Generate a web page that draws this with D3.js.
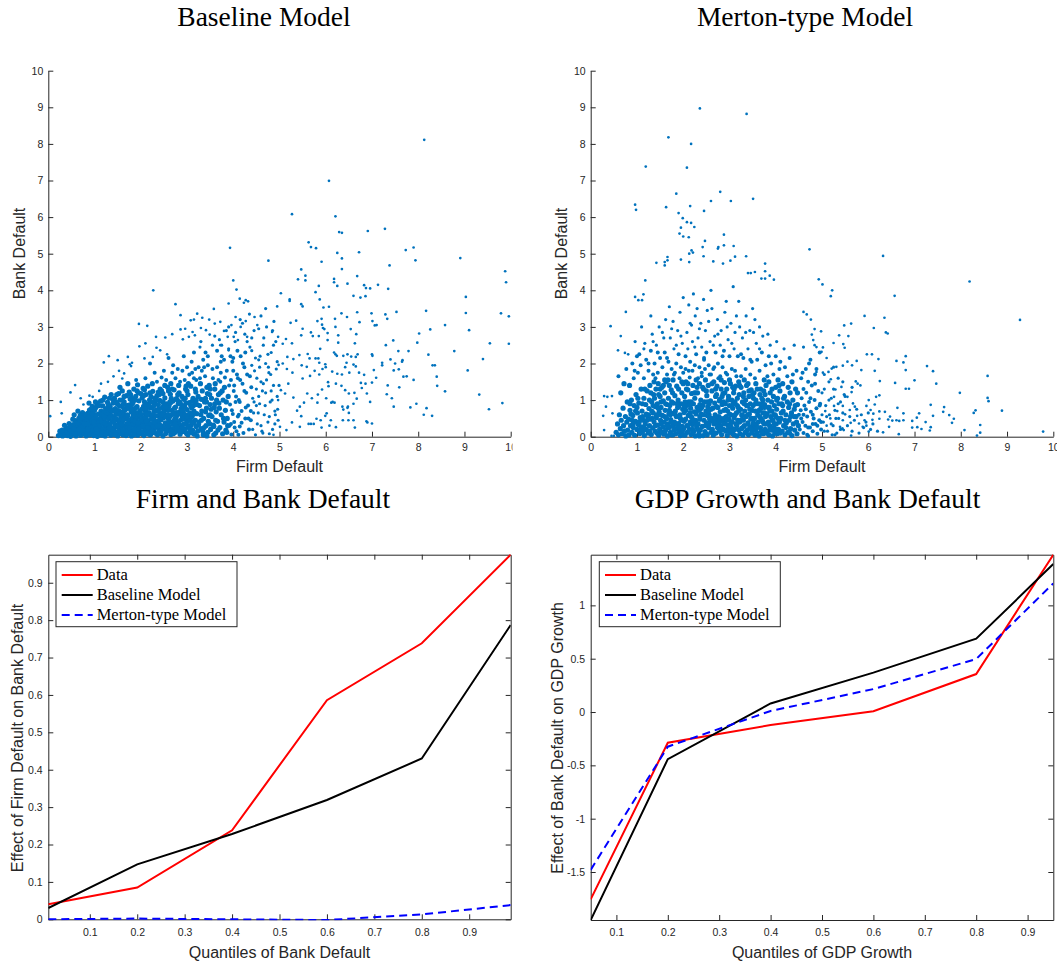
<!DOCTYPE html>
<html><head><meta charset="utf-8">
<script src="https://cdn.jsdelivr.net/npm/d3@7"></script>
<style>body{margin:0;background:#fff}svg{display:block}</style>
</head><body>
<svg id="chart" width="1057" height="961"></svg>
<script>
// ---------- DATA ----------
const scatterTitles = ["Baseline Model", "Merton-type Model"];
const lineTitles = ["Firm and Bank Default", "GDP Growth and Bank Default"];
const scatterTicks = [0,1,2,3,4,5,6,7,8,9,10];

// Baseline model scatter (Firm Default, Bank Default): "x y" pairs — dense cloud
const baselineCore = `0.22 0.03,0.27 0.08,0.31 0.02,0.33 0.12,0.36 0.06,0.38 0.18,0.41 0.03,0.42 0.11,0.44 0.22,0.46 0.07,0.47 0.15,0.49 0.29,0.48 0.01,0.39 0.25,0.35 0.31,0.45 0.36,0.3 0.18,0.25 0.15,
0.51 0.05,0.52 0.19,0.54 0.33,0.55 0.1,0.57 0.27,0.58 0.44,0.6 0.02,0.61 0.15,0.62 0.38,0.63 0.23,0.65 0.08,0.66 0.5,0.67 0.31,0.68 0.17,0.7 0.04,0.71 0.42,0.72 0.26,0.73 0.12,0.75 0.35,0.76 0.55,0.77 0.21,0.78 0.07,0.79 0.46,0.56 0.6,0.64 0.7,0.74 0.66,0.69 0.58,0.53 0.48,
0.8 0.14,0.81 0.3,0.82 0.02,0.83 0.52,0.84 0.22,0.85 0.64,0.86 0.09,0.87 0.41,0.88 0.27,0.89 0.73,0.9 0.05,0.91 0.35,0.92 0.17,0.93 0.58,0.94 0.45,0.95 0.11,0.96 0.29,0.97 0.68,0.98 0.03,0.99 0.39,1.0 0.21,1.01 0.55,1.02 0.13,1.03 0.8,1.04 0.33,1.05 0.06,1.06 0.47,1.07 0.25,1.08 0.62,1.09 0.16,1.1 0.4,0.84 0.44,0.9 0.62,0.95 0.83,1.0 0.72,1.05 0.9,0.88 0.92,0.99 0.5,0.93 0.24,1.06 0.01,
1.11 0.08,1.12 0.28,1.13 0.51,1.14 0.7,1.15 0.19,1.16 0.04,1.17 0.36,1.18 0.84,1.19 0.6,1.2 0.13,1.21 0.45,1.22 0.27,1.23 0.02,1.24 0.76,1.25 0.55,1.26 0.18,1.27 0.38,1.28 0.94,1.29 0.09,1.3 0.66,1.31 0.31,1.32 0.48,1.33 0.15,1.34 0.81,1.35 0.04,1.36 0.58,1.37 0.24,1.38 0.71,1.39 0.41,1.4 1.02,1.13 0.97,1.22 1.08,1.3 0.88,1.36 1.15,1.15 0.42,1.26 0.65,1.33 0.35,1.19 0.22,1.28 0.12,1.38 0.08,
1.41 0.19,1.42 0.52,1.43 0.06,1.44 0.33,1.45 0.77,1.46 0.13,1.47 0.62,1.48 0.27,1.49 0.9,1.5 0.02,1.51 0.44,1.52 0.71,1.53 0.16,1.54 0.37,1.55 1.0,1.56 0.09,1.57 0.56,1.58 0.24,1.59 0.83,1.6 0.4,1.61 0.05,1.62 0.67,1.63 0.3,1.64 0.95,1.65 0.14,1.66 0.49,1.67 0.74,1.68 0.21,1.69 1.12,1.7 0.35,1.43 1.05,1.52 1.18,1.6 1.25,1.48 0.48,1.57 0.11,1.65 0.6,1.45 0.29,1.62 0.88,1.55 0.68,1.68 0.03,
1.71 0.07,1.72 0.58,1.73 0.26,1.74 0.86,1.75 0.12,1.76 0.43,1.77 1.03,1.78 0.31,1.79 0.68,1.8 0.02,1.81 0.5,1.82 0.19,1.83 0.93,1.84 0.37,1.85 0.76,1.86 0.1,1.87 0.61,1.88 0.28,1.89 1.1,1.9 0.45,1.91 0.15,1.92 0.82,1.93 0.04,1.94 0.53,1.95 0.33,1.96 0.98,1.97 0.22,1.98 0.7,1.99 0.4,2.0 0.08,1.75 1.22,1.85 1.3,1.95 1.2,1.8 0.88,1.9 0.66,1.73 0.47,1.88 0.55,1.97 0.12,1.82 0.33,1.93 1.42,
2.01 0.6,2.02 0.27,2.03 1.06,2.04 0.14,2.05 0.49,2.06 0.83,2.07 0.03,2.08 0.38,2.09 0.72,2.1 0.2,2.11 1.15,2.12 0.55,2.13 0.09,2.14 0.31,2.15 0.9,2.16 0.44,2.17 0.16,2.18 0.66,2.19 1.01,2.2 0.24,2.21 0.05,2.22 0.58,2.23 0.35,2.24 0.79,2.25 0.12,2.26 1.24,2.27 0.47,2.28 0.19,2.29 0.69,2.3 0.94,2.05 1.32,2.15 1.38,2.25 1.45,2.08 0.95,2.18 0.07,2.12 0.76,2.22 1.1,2.28 0.52,2.03 0.41,2.1 0.63,
2.31 0.1,2.32 0.41,2.33 0.73,2.34 0.26,2.35 1.12,2.36 0.05,2.37 0.57,2.38 0.88,2.39 0.18,2.4 0.34,2.41 0.99,2.42 0.63,2.43 0.13,2.44 0.46,2.45 1.25,2.46 0.29,2.47 0.8,2.48 0.02,2.49 0.52,2.5 0.7,2.51 0.21,2.52 1.06,2.53 0.38,2.54 0.09,2.55 0.6,2.56 0.9,2.57 0.31,2.58 1.35,2.59 0.16,2.6 0.48,2.35 1.5,2.45 1.62,2.55 1.55,2.38 0.43,2.48 0.95,2.52 0.25,2.42 1.3,2.33 1.0,2.58 0.75,2.4 0.08,
2.61 0.84,2.62 0.25,2.63 0.55,2.64 1.16,2.65 0.06,2.66 0.4,2.67 0.72,2.68 0.18,2.69 0.97,2.7 0.34,2.71 0.62,2.72 1.28,2.73 0.11,2.74 0.49,2.75 0.81,2.76 0.27,2.77 1.04,2.78 0.58,2.79 0.15,2.8 0.39,2.81 0.9,2.82 0.21,2.83 1.2,2.84 0.67,2.85 0.07,2.86 0.45,2.87 0.77,2.88 0.3,2.89 1.1,2.9 0.53,2.65 1.45,2.75 1.6,2.85 1.5,2.68 1.75,2.8 1.85,2.7 0.08,2.78 0.66,2.63 0.95,2.88 0.88,2.72 0.44,
2.91 0.14,2.92 0.66,2.93 1.02,2.94 0.35,2.95 0.82,2.96 0.2,2.97 1.3,2.98 0.5,2.99 0.09,3.0 0.74,3.01 0.42,3.02 1.15,3.03 0.26,3.04 0.6,3.05 0.93,3.06 0.12,3.07 0.48,3.08 1.38,3.09 0.31,3.1 0.79,3.11 0.55,3.12 0.18,3.13 1.05,3.14 0.38,3.15 0.7,3.16 0.07,3.17 0.9,3.18 0.45,3.19 1.22,3.2 0.28,2.95 1.55,3.05 1.7,3.15 1.6,3.0 1.9,3.1 2.05,2.93 2.2,3.18 1.85,3.02 0.05,3.12 0.98,2.97 0.6,
3.21 0.63,3.23 0.15,3.24 1.1,3.26 0.4,3.27 0.85,3.29 1.45,3.3 0.22,3.32 0.7,3.33 1.25,3.35 0.05,3.36 0.5,3.38 0.95,3.39 1.65,3.41 0.3,3.42 0.78,3.44 1.18,3.45 0.12,3.47 0.58,3.48 1.4,3.5 0.88,3.25 1.9,3.35 2.1,3.45 1.95,3.28 2.45,3.4 2.3,3.22 0.02,3.31 0.45,3.43 0.02,3.37 0.25,3.49 0.35,
3.51 0.2,3.53 1.05,3.54 0.55,3.56 1.6,3.57 0.32,3.59 0.8,3.6 1.3,3.62 0.1,3.63 0.68,3.65 1.9,3.66 0.42,3.68 1.15,3.69 0.92,3.71 0.25,3.72 1.5,3.74 0.6,3.75 2.2,3.77 0.08,3.78 1.0,3.8 0.4,3.55 2.5,3.65 2.35,3.7 2.65,3.58 0.05,3.73 1.75,
3.81 1.35,3.83 0.72,3.84 0.18,3.86 1.8,3.87 0.5,3.89 1.1,3.9 2.4,3.92 0.3,3.93 0.88,3.95 1.55,3.96 0.06,3.98 2.05,3.99 0.62,4.01 1.25,4.02 0.4,4.04 2.6,4.05 0.95,4.07 0.15,4.08 1.7,4.1 0.55,3.85 2.9,4.0 2.15,3.95 0.35,
4.12 1.0,4.14 0.28,4.16 2.2,4.18 0.7,4.2 1.45,4.22 0.1,4.24 1.9,4.26 0.5,4.28 1.2,4.3 2.6,4.32 0.85,4.34 0.2,4.36 1.65,4.38 0.45,4.4 2.35,4.42 1.05,4.44 0.65,4.46 1.8,4.48 0.05,4.5 1.3,4.15 3.2,4.25 2.8,4.35 3.35,4.45 2.9,
4.52 0.35,4.55 2.1,4.57 0.9,4.6 1.5,4.62 0.15,4.65 2.5,4.67 0.6,4.7 1.2,4.72 3.0,4.75 0.4,4.77 1.75,4.8 0.95,4.82 2.3,4.85 0.2,4.87 1.4,4.9 0.7,4.92 2.6,4.95 1.1,4.97 0.45,4.6 3.3,4.7 2.0,4.88 3.15,4.55 1.1,4.78 0.08,
0.85 0.35,0.92 0.5,0.97 0.18,1.03 0.58,1.08 0.3,1.12 0.62,1.17 0.12,1.21 0.68,1.24 0.33,1.29 0.52,1.32 0.24,1.35 0.73,1.42 0.4,1.46 0.61,1.5 0.28,1.53 0.85,1.58 0.46,1.61 0.17,1.64 0.75,1.67 0.53,1.72 0.36,1.76 0.77,1.78 0.15,1.81 0.95,1.84 0.6,1.87 0.42,1.9 0.8,1.94 0.22,1.97 0.58,2.02 0.75,2.05 0.3,2.09 0.52,2.11 0.88,2.14 0.61,2.17 0.35,2.2 0.8,2.23 0.48,2.27 0.29,2.29 0.85,2.32 0.57,2.35 0.3,2.39 0.76,2.42 0.48,2.45 0.2,2.47 0.65,2.5 0.9,2.53 0.55,2.56 0.18,2.59 0.72,2.62 0.4,2.64 0.92,2.67 0.6,2.7 0.22,2.73 0.78,2.76 0.5,2.79 1.0,2.82 0.35,2.85 0.62,2.88 0.15,2.91 0.8,2.94 0.5,2.98 0.92,3.02 0.3,3.06 0.65,3.1 0.4,3.14 0.85,1.0 0.3,1.05 0.12,1.15 0.5,1.25 0.08,1.45 0.05,1.55 0.45,1.7 0.6,1.85 0.2,2.0 0.45,2.15 0.25,2.3 0.4,2.45 0.6,2.6 0.3,2.75 0.35,2.9 0.25,3.0 0.55,0.7 0.3,0.75 0.18,0.6 0.25,0.65 0.38,0.5 0.15,0.55 0.22,1.4 0.92,1.6 1.0,1.8 1.05,2.0 1.18,2.2 1.2,2.4 1.15,2.6 1.25,2.8 1.15,3.0 1.25,3.2 1.0,3.3 0.6,3.4 1.05,3.5 0.6,3.6 0.9,
3.03 1.45,3.07 0.2,3.11 1.75,3.14 0.62,3.18 1.3,3.22 0.88,3.25 0.33,3.28 1.6,3.31 1.02,3.34 0.15,3.37 1.9,3.4 0.68,3.43 1.35,3.46 0.42,3.49 1.15,3.52 0.75,3.55 1.85,3.58 0.28,3.61 1.45,3.64 1.0,3.67 0.18,3.7 0.78,3.73 2.05,3.76 1.25,3.79 0.5,3.82 1.62,3.85 0.95,3.88 0.3,3.91 1.4,3.94 2.2,3.97 0.72,4.0 1.8,4.03 0.25,4.06 1.1,4.09 2.35,4.12 0.6,4.15 1.55,4.18 0.38,4.21 2.0,4.24 1.25,4.27 0.8,4.3 1.7,4.33 0.5,4.36 2.45,4.39 1.35,4.42 0.2,4.45 0.95,4.48 2.15,4.51 1.6,4.54 0.65,4.57 1.9,4.6 0.3,4.63 1.25,4.66 2.7,4.69 0.85,4.72 1.55,4.75 2.25,4.78 0.55,4.81 1.7,4.84 1.0,4.87 2.5,4.9 0.35,4.93 1.85,4.96 0.75,4.99 1.4,3.15 2.3,3.3 2.6,3.45 2.2,3.6 2.75,3.75 2.5,3.9 3.0,4.05 2.85,4.2 3.1,4.4 2.7,4.55 2.95,4.7 3.5,4.85 2.9,3.12 0.1,3.36 0.08,3.62 0.45,3.86 0.12,4.11 0.05,4.38 0.7,4.64 0.1,4.91 0.6,3.2 1.55,3.5 1.3,3.8 2.1,4.1 1.6,4.4 1.95,4.65 1.45,4.95 2.05,3.32 1.8,3.68 1.55,4.02 1.4,4.26 2.3,4.58 2.2,4.82 1.25,3.08 0.85,3.42 0.95,3.72 1.2,4.14 0.95,4.5 0.85,4.76 1.9,
0.62 0.12,0.68 0.45,0.74 0.28,0.8 0.6,0.86 0.2,0.92 0.75,0.98 0.4,1.04 0.22,1.1 0.85,1.16 0.6,1.22 0.38,1.28 0.78,1.34 0.55,1.4 0.18,1.46 0.95,1.52 0.62,1.58 0.35,1.64 1.1,1.7 0.85,1.76 0.25,1.82 0.72,1.88 1.0,1.94 0.38,2.0 0.62,2.06 1.12,2.12 0.42,2.18 0.85,2.24 0.15,2.3 1.05,2.36 0.7,2.42 0.3,2.48 1.18,2.54 0.82,2.6 0.6,2.66 1.05,2.72 0.65,2.78 0.25,2.84 0.95,2.9 0.72,2.96 1.05,0.72 0.52,0.88 0.55,1.02 0.95,1.18 1.0,1.32 1.05,1.48 1.15,1.62 0.45,1.78 1.15,1.92 1.25,2.08 1.28,2.22 0.95,2.38 1.22,2.52 1.4,2.68 1.3,2.82 1.4,2.98 1.38,1.55 1.35,1.72 1.45,1.9 1.55,2.1 1.6,2.3 1.75,2.5 1.8,2.7 1.95,2.9 1.8,2.2 2.0,2.6 2.15,1.45 0.7,1.85 0.05,2.25 0.6,2.65 0.15,2.95 0.35,1.2 0.55,0.95 0.62,0.78 0.35,0.58 0.08,0.66 0.2`;

// Baseline model scatter — sparse outer points
const baselineOuter = `3.93 5.16,4.0 4.27,4.07 4.02,4.14 3.77,4.27 3.73,4.32 3.7,4.23 3.66,2.27 4.0,2.75 3.62,2.86 3.32,1.96 3.08,2.14 3.03,3.9 3.64,3.58 3.49,3.22 3.36,3.33 3.25,3.48 3.2,3.08 3.18,3.15 3.2,1.31 2.2,1.72 2.18,1.2 2.03,1.5 2.09,1.64 1.73,1.76 1.98,1.81 2.02,1.79 1.93,0.58 1.41,0.48 1.21,0.27 0.95,0.04 0.56,0.29 0.64,0.7 1.05,0.76 0.88,0.89 1.12,0.96 1.09,1.1 1.25,1.14 1.45,1.29 1.5,1.41 1.65,1.53 1.8,1.6 1.59,1.97 2.47,2.1 2.55,2.33 2.73,2.53 2.71,2.68 2.8,2.42 2.36,2.26 2.18,2.34 2.43,2.57 2.25,2.08 2.14,2.86 2.93,2.96 2.95,3.04 2.73,2.91 2.66,3.12 2.86,3.17 2.77,3.3 2.97,3.41 2.91,3.49 2.79,3.6 3.09,3.72 3.14,3.8 2.89,3.96 3.05,4.05 3.27,4.16 3.0,4.27 3.16,4.46 3.27,4.52 3.05,3.88 2.73,4.01 2.73,4.1 2.64,4.3 2.73,3.72 2.5,3.9 2.36,
8.13 8.11,6.07 6.99,5.27 6.08,6.21 6.02,6.29 5.59,6.35 5.57,7.28 5.68,6.91 5.62,5.63 5.31,5.68 5.18,5.79 5.15,6.25 5.02,7.73 5.1,7.9 5.17,7.94 4.82,8.91 4.88,4.76 4.81,5.91 4.78,6.35 4.87,6.72 5.04,6.35 4.58,5.47 4.57,7.38 4.68,9.88 4.52,9.9 4.22,5.4 4.3,5.56 4.4,5.56 4.27,6.18 4.31,6.18 4.22,6.68 4.39,6.25 4.12,6.47 4.18,5.85 4.12,6.83 4.14,6.87 4.06,6.96 4.05,7.13 4.15,7.35 4.04,5.78 3.95,5.87 3.75,5.22 3.75,5.22 3.71,5.03 3.92,6.6 3.85,6.75 3.8,6.86 3.84,9.03 3.82,4.95 3.56,5.47 3.62,5.5 3.56,5.95 3.53,6.07 3.55,6.46 3.27,6.34 3.37,6.2 3.22,6.68 3.4,6.73 3.13,7.53 3.41,7.29 3.34,7.33 3.22,6.99 3.37,7.01 3.16,7.06 3.04,7.1 3.05,8.17 3.44,9.03 3.38,8.58 3.05,9.1 2.91,8.26 2.93,8.02 2.82,7.98 2.57,9.79 3.37,9.96 3.29,9.55 2.55,9.96 2.54,8.78 2.34,9.4 2.12,8.22 2.24,8.31 1.95,8.36 1.95,8.4 1.64,8.41 1.39,8.58 1.24,9.07 1.81,9.32 1.15,9.53 0.75,9.82 0.92,7.9 1.55,7.96 0.9,7.83 0.8,8.12 0.6,8.18 0.78,8.3 0.57,7.79 2.34,7.57 2.34,7.66 2.09,7.65 2.05,7.5 2.0,7.58 1.84,7.22 2.02,7.22 1.95,7.4 2.11,7.46 2.63,7.3 2.5,7.47 1.81,7.68 1.64,7.75 1.65,7.59 1.35,7.34 1.4,7.43 1.05,7.47 0.82,7.32 1.16,7.0 2.25,7.01 2.21,7.09 1.61,7.04 1.82,7.0 1.48,6.96 0.95,6.89 1.18,7.0 0.36,6.88 0.42,6.9 0.39,6.78 1.33,6.76 1.47,6.86 1.45,6.83 1.69,6.72 1.75,6.65 1.92,6.69 2.25,6.65 2.18,6.63 2.55,6.66 2.8,6.54 2.94,6.47 2.25,6.55 2.19,6.38 2.21,6.21 2.25,6.18 2.3,6.24 2.21,6.27 2.57,6.04 2.64,5.88 2.4,5.97 2.94,6.04 2.83,6.27 2.77,6.21 3.0,5.94 2.97,5.92 3.06,5.91 3.22,5.82 3.16,5.68 2.85,5.72 2.75,5.85 2.75,5.5 2.95,5.47 2.77,5.36 3.17,5.24 3.11,5.27 2.55,5.14 2.67,5.07 2.54,4.97 2.73,4.84 2.86,6.42 1.9,6.45 2.02,6.6 1.97,6.51 1.75,6.25 1.72,6.35 1.7,6.14 1.78,5.99 1.98,6.0 1.9,5.93 1.85,5.84 2.14,5.86 2.02,5.78 2.14,5.65 2.14,5.61 2.26,5.59 1.91,5.48 1.95,5.43 2.23,5.3 2.12,5.17 2.18,5.07 2.0,5.16 1.85,4.98 1.96,5.28 1.75,5.5 1.59,5.66 1.66,5.76 1.8,5.86 1.7,6.05 1.49,6.06 1.38,6.22 1.45,6.34 1.39,6.42 1.27,6.5 1.18,6.62 1.2,6.67 1.04,6.6 0.9,6.48 0.82,6.36 0.82,6.38 0.74,6.19 0.93,6.12 0.93,6.15 0.95,6.01 1.05,5.92 1.29,5.83 1.15,5.82 0.93,5.7 1.05,5.6 1.18,5.53 0.93,5.44 0.82,5.38 0.71,5.47 0.56,5.3 1.07,5.19 1.45,5.12 1.18,5.03 1.27,4.97 1.0,5.89 0.45,5.8 0.49,5.68 0.35,5.74 0.35,5.63 0.35,5.91 0.25,6.08 0.3,6.22 0.26,6.11 0.45,6.37 0.45,6.49 0.45,6.63 0.25,6.6 0.45,6.5 0.65,6.47 0.79,6.02 0.64,5.99 0.57,5.15 0.18,5.27 0.39,5.44 0.27,5.01 0.27,4.87 0.05`;

// Merton-type model scatter — dense cloud
const mertonCore = `0.55 0.12,0.58 0.35,0.6 0.05,0.62 0.6,0.64 0.22,0.66 0.45,0.68 0.08,0.7 0.78,0.71 0.3,0.73 0.15,0.75 0.55,0.76 0.02,0.78 0.4,0.79 0.95,0.65 1.2,0.72 1.45,0.6 1.65,0.77 1.85,
0.8 0.18,0.82 0.48,0.83 0.05,0.85 0.72,0.86 0.3,0.88 1.0,0.89 0.12,0.91 0.58,0.92 0.25,0.94 0.85,0.95 0.04,0.97 0.42,0.98 1.15,1.0 0.2,1.01 0.65,1.03 0.33,1.04 0.92,1.06 0.09,1.07 0.52,1.09 1.3,1.1 0.27,0.84 1.4,0.93 1.6,1.02 1.75,0.9 2.0,1.05 2.25,0.96 2.6,1.08 1.95,0.87 0.62,
1.11 0.7,1.12 0.14,1.14 0.45,1.15 1.05,1.16 0.03,1.18 0.35,1.19 0.88,1.2 0.2,1.22 1.25,1.23 0.56,1.24 0.1,1.26 0.77,1.27 0.3,1.28 1.4,1.3 0.48,1.31 0.06,1.32 0.95,1.34 0.24,1.35 0.65,1.36 1.15,1.37 0.4,1.39 0.15,1.4 0.82,1.15 1.6,1.25 1.8,1.35 1.7,1.2 2.1,1.3 2.35,1.38 2.0,1.17 2.55,1.33 2.8,1.25 0.6,1.38 1.05,
1.41 1.3,1.42 0.52,1.43 0.1,1.44 0.9,1.45 0.32,1.46 1.45,1.47 0.04,1.48 0.68,1.49 0.2,1.5 1.1,1.51 0.45,1.52 0.8,1.53 0.13,1.54 1.35,1.55 0.58,1.56 0.27,1.57 0.98,1.58 0.07,1.59 0.4,1.6 1.2,1.61 0.72,1.62 0.18,1.63 1.5,1.64 0.5,1.65 0.88,1.66 0.02,1.67 0.35,1.68 1.05,1.69 0.62,1.7 0.25,1.45 1.75,1.55 1.9,1.65 1.7,1.5 2.15,1.6 2.3,1.42 2.5,1.58 2.7,1.68 2.05,1.48 3.0,1.62 3.2,1.52 0.95,
1.71 0.85,1.72 0.12,1.73 0.47,1.74 1.28,1.75 0.05,1.76 0.64,1.77 0.3,1.78 1.55,1.79 0.92,1.8 0.18,1.81 0.4,1.82 1.12,1.83 0.7,1.84 0.08,1.85 0.55,1.86 1.38,1.87 0.24,1.88 0.8,1.89 1.0,1.9 0.36,1.91 0.14,1.92 1.6,1.93 0.6,1.94 0.03,1.95 0.9,1.96 0.45,1.97 1.2,1.98 0.28,1.99 0.75,2.0 1.45,1.75 1.85,1.85 2.0,1.95 1.9,1.8 2.4,1.9 2.25,1.72 2.7,1.88 2.9,1.98 2.55,1.78 3.15,1.93 3.4,1.82 0.2,1.97 0.1,
2.01 0.22,2.02 0.66,2.03 1.1,2.04 0.04,2.05 0.48,2.06 1.5,2.07 0.85,2.08 0.3,2.09 0.12,2.1 1.28,2.11 0.58,2.12 0.95,2.13 0.2,2.14 1.62,2.15 0.4,2.16 0.78,2.17 0.06,2.18 1.18,2.19 0.52,2.2 0.33,2.21 1.4,2.22 0.9,2.23 0.15,2.24 0.68,2.25 1.05,2.26 0.02,2.27 0.45,2.28 1.55,2.29 0.27,2.3 0.8,2.05 1.85,2.15 2.05,2.25 1.95,2.1 2.4,2.2 2.6,2.28 2.25,2.08 2.85,2.18 3.05,2.26 3.3,2.12 3.6,2.22 3.9,2.04 0.95,2.24 0.38,
2.31 1.2,2.32 0.35,2.33 0.72,2.34 0.08,2.35 1.45,2.36 0.55,2.37 0.18,2.38 1.0,2.39 0.62,2.4 1.65,2.41 0.28,2.42 0.85,2.43 0.03,2.44 1.3,2.45 0.45,2.46 0.95,2.47 0.14,2.48 1.55,2.49 0.7,2.5 0.38,2.51 1.12,2.52 0.05,2.53 0.82,2.54 1.4,2.55 0.25,2.56 0.6,2.57 1.7,2.58 0.42,2.59 0.98,2.6 0.12,2.35 1.9,2.45 2.1,2.55 1.95,2.4 2.45,2.5 2.3,2.32 2.7,2.48 2.9,2.58 2.6,2.38 3.1,2.52 3.45,2.44 3.75,2.56 0.9,2.36 0.88,
2.61 0.5,2.62 1.25,2.63 0.2,2.64 0.78,2.65 0.04,2.66 1.5,2.67 0.35,2.68 0.92,2.69 0.6,2.7 1.1,2.71 0.1,2.72 0.45,2.73 1.38,2.74 0.25,2.75 0.8,2.76 1.6,2.77 0.55,2.78 0.15,2.79 1.02,2.8 0.68,2.81 0.3,2.82 1.3,2.83 0.06,2.84 0.88,2.85 0.42,2.86 1.18,2.87 0.2,2.88 0.72,2.89 1.48,2.9 0.35,2.65 1.85,2.75 2.0,2.85 1.9,2.7 2.3,2.8 2.5,2.68 2.75,2.82 2.9,2.74 3.2,2.88 2.35,2.62 3.5,2.78 0.98,
2.91 0.9,2.92 0.15,2.93 0.55,2.94 1.3,2.95 0.03,2.96 0.7,2.97 0.32,2.98 1.1,2.99 0.48,3.0 0.85,3.01 0.12,3.02 1.45,3.03 0.6,3.04 0.25,3.05 1.0,3.06 0.4,3.07 0.78,3.08 0.07,3.09 1.2,3.1 0.52,3.11 0.2,3.12 0.95,3.13 1.38,3.14 0.35,3.15 0.65,3.16 0.02,3.17 1.05,3.18 0.45,3.19 0.8,3.2 0.18,2.95 1.7,3.05 1.85,3.15 1.65,3.0 2.2,3.1 2.4,2.97 2.65,3.12 2.85,3.03 3.1,3.18 2.2,2.93 3.7,3.08 4.1,
3.21 1.15,3.22 0.4,3.23 0.08,3.24 0.75,3.25 1.35,3.26 0.22,3.27 0.58,3.28 0.95,3.29 0.04,3.3 0.45,3.31 1.2,3.32 0.3,3.33 0.7,3.34 0.12,3.35 1.0,3.36 0.55,3.37 1.4,3.38 0.18,3.39 0.85,3.4 0.38,3.41 0.05,3.42 1.1,3.43 0.62,3.44 0.25,3.45 0.9,3.46 0.48,3.47 1.28,3.48 0.1,3.49 0.72,3.5 0.3,3.25 1.65,3.35 1.85,3.45 1.7,3.3 2.15,3.4 2.4,3.28 2.7,3.44 2.9,3.36 3.3,3.48 2.05,3.22 3.0,
3.51 0.85,3.52 0.2,3.53 1.2,3.54 0.5,3.55 0.05,3.56 0.7,3.57 1.0,3.58 0.32,3.59 0.12,3.6 1.3,3.61 0.6,3.62 0.4,3.63 0.9,3.64 0.02,3.65 0.55,3.66 1.15,3.67 0.25,3.68 0.78,3.69 0.15,3.7 1.05,3.71 0.45,3.72 0.65,3.73 0.08,3.74 1.25,3.75 0.35,3.76 0.88,3.77 0.2,3.78 0.55,3.79 1.4,3.8 0.1,3.55 1.6,3.65 1.8,3.75 1.55,3.6 2.1,3.7 2.3,3.58 2.55,3.72 2.75,3.65 3.0,3.78 1.95,3.52 2.85,
3.81 0.62,3.82 0.15,3.83 1.0,3.84 0.4,3.85 0.05,3.86 0.8,3.87 0.3,3.88 1.2,3.89 0.55,3.9 0.18,3.91 0.95,3.92 0.7,3.93 0.02,3.94 0.45,3.95 1.1,3.96 0.25,3.97 0.85,3.98 0.12,3.99 0.6,4.0 1.35,4.01 0.35,4.02 0.75,4.03 0.08,4.04 1.05,4.05 0.5,4.06 0.2,4.07 0.9,4.08 0.4,4.09 1.25,4.1 0.1,3.85 1.5,3.95 1.7,4.05 1.55,3.9 2.0,4.0 2.2,3.88 2.5,4.08 1.85,3.83 2.8,4.02 2.6,
4.11 0.5,4.13 0.9,4.14 0.15,4.16 0.7,4.17 0.3,4.19 1.1,4.2 0.05,4.22 0.6,4.23 0.38,4.25 0.95,4.26 0.12,4.28 0.8,4.29 0.45,4.31 1.2,4.32 0.22,4.34 0.65,4.35 0.03,4.37 1.0,4.38 0.35,4.4 0.75,4.41 0.18,4.43 1.3,4.44 0.55,4.46 0.08,4.47 0.88,4.49 0.3,4.5 0.6,4.15 1.45,4.25 1.65,4.35 1.5,4.2 1.9,4.3 2.15,4.45 1.8,4.4 2.5,4.18 2.4,
4.52 0.2,4.54 0.72,4.56 1.05,4.58 0.4,4.6 0.1,4.62 0.85,4.64 0.3,4.66 1.2,4.68 0.55,4.7 0.02,4.72 0.95,4.74 0.25,4.76 0.68,4.78 1.4,4.8 0.15,4.82 0.5,4.84 1.0,4.86 0.35,4.88 0.78,4.9 0.08,4.92 1.25,4.94 0.45,4.96 0.9,4.98 0.2,4.55 1.6,4.65 1.85,4.75 2.1,4.85 1.7,4.95 2.3,4.6 2.45,4.7 1.5,
5.03 0.4,5.08 0.85,5.12 0.15,5.16 0.6,5.2 1.05,5.24 0.3,5.28 0.72,5.32 0.1,5.36 0.5,5.4 0.95,5.44 0.22,5.48 1.15,5.05 1.3,5.15 1.5,5.35 1.6,5.22 0.05,
1.05 0.4,1.12 0.55,1.2 0.62,1.27 0.15,1.33 0.5,1.4 0.3,1.46 0.78,1.5 0.6,1.55 0.12,1.6 0.55,1.65 0.3,1.7 0.72,1.74 0.4,1.78 0.05,1.82 0.62,1.86 0.35,1.9 0.82,1.94 0.5,1.98 0.15,2.02 0.42,2.06 0.72,2.1 0.3,2.14 0.88,2.17 0.55,2.21 0.12,2.24 1.2,2.28 0.62,2.32 0.2,2.36 0.48,2.4 0.8,2.44 0.6,2.48 0.3,2.52 0.58,2.56 0.35,2.6 0.75,2.64 0.45,2.68 0.1,2.72 0.82,2.76 0.35,2.8 0.5,2.84 1.1,2.88 0.5,2.92 0.75,2.96 0.2,3.0 0.62,3.04 0.4,3.08 0.9,3.12 0.6,3.16 0.3,3.2 0.7,3.24 0.45,3.28 0.25,3.32 0.9,3.36 0.12,3.4 0.6,3.44 0.75,3.48 0.5,3.52 0.38,3.56 0.9,3.6 0.25,3.64 0.72,3.68 0.5,3.72 1.0,3.76 0.65,3.8 0.35,3.84 0.8,3.88 0.25,3.92 0.45,3.96 0.6,4.0 0.2,1.3 1.2,1.5 1.3,1.7 1.4,1.9 1.3,2.1 1.45,2.3 1.35,2.5 1.25,2.7 1.3,2.9 1.2,3.1 1.3,3.3 1.1,3.5 1.15,3.7 0.9,1.4 1.6,1.6 1.55,1.8 1.7,2.0 1.75,2.2 1.8,2.4 1.75,2.6 1.7,2.8 1.65,3.0 1.55,3.2 1.5,3.4 1.45,2.0 0.05,2.35 0.02,2.7 0.55,3.05 0.15,1.15 0.25,1.0 0.8,0.9 0.45,0.85 0.9,4.2 0.45,4.3 0.9,4.4 0.55,4.6 0.6,4.8 0.35,5.0 0.6,
0.92 0.35,0.97 0.7,1.02 1.05,1.07 0.2,1.12 0.9,1.17 1.3,1.22 0.45,1.27 1.0,1.32 0.7,1.37 1.5,1.42 0.6,1.47 1.15,1.52 0.35,1.57 1.4,1.62 0.9,1.67 1.55,1.72 0.6,1.77 1.2,1.82 1.75,1.87 0.9,1.92 0.25,1.97 1.5,2.02 0.85,2.07 1.3,2.12 1.8,2.17 0.95,2.22 0.45,2.27 1.2,2.32 1.6,2.37 0.75,2.42 1.35,2.47 1.85,2.52 0.95,2.57 0.5,2.62 1.45,2.67 1.9,2.72 1.15,2.77 0.4,2.82 1.55,2.87 0.95,2.92 1.75,2.97 1.0,3.02 0.3,3.07 1.35,3.12 1.8,3.17 0.85,3.22 1.4,3.27 0.6,3.32 1.55,3.37 0.85,3.42 1.25,3.47 0.2,3.52 1.05,3.57 1.45,3.62 0.7,3.67 1.3,3.72 0.4,3.77 1.15,3.82 1.65,3.87 0.7,3.92 1.3,3.97 0.35,4.02 1.0,4.07 1.4,4.12 0.65,4.17 1.05,4.22 0.25,4.27 1.35,4.32 0.55,4.37 1.7,4.42 0.85,4.47 1.2,1.25 2.0,1.45 2.3,1.65 2.15,1.85 2.5,2.05 2.2,2.25 2.45,2.45 2.15,2.65 2.5,2.85 2.2,3.05 2.55,3.25 2.25,3.45 2.1,3.65 2.4,3.85 2.2,4.1 2.05,1.35 2.6,1.55 2.85,1.75 2.95,1.95 2.75,2.15 3.1,2.35 2.95,2.55 3.15,2.75 2.8,2.95 3.0,3.15 3.3,3.35 2.85,3.55 3.2,1.3 3.3,1.7 3.55,2.0 3.8,2.3 3.5,2.6 4.0,2.9 3.4,3.2 3.7,3.5 3.5,1.1 3.0,0.95 1.8,1.0 2.2,1.15 2.4,1.6 0.1,1.9 0.55,2.2 0.2,2.5 0.08,2.8 0.2,3.1 0.05,3.4 0.35,3.7 0.1,4.0 0.55,4.3 0.1,1.35 0.85,1.75 0.95,2.15 0.65,2.55 0.7,2.95 0.45,3.35 0.55,3.75 0.8,4.15 0.85,4.45 0.4,
4.55 0.5,4.6 1.3,4.65 0.75,4.7 0.25,4.75 1.05,4.8 0.6,4.85 1.45,4.9 0.3,4.95 0.85,5.0 1.2,5.05 0.15,5.1 0.55,5.15 1.0,5.2 0.35,5.25 1.3,5.3 0.5,5.35 0.9,5.4 0.2,5.45 0.65,5.5 1.1,5.55 0.3,5.6 0.55,5.65 0.15,5.7 0.45,5.75 0.75,5.8 0.1,5.85 0.6,5.9 0.25,5.95 0.4,6.0 0.65,6.05 0.2,6.1 0.35,6.2 0.15,4.58 1.75,4.72 2.0,4.88 1.85,5.05 1.7,5.25 1.9,5.45 1.5,5.65 1.35,4.68 0.05,4.98 0.4,5.28 0.05`;

// Merton-type model scatter — sparse outer points
const mertonOuter = `2.36 8.97,3.37 8.82,1.68 8.18,2.17 8.0,1.19 7.38,2.08 7.35,2.8 6.69,1.85 6.64,3.51 6.5,0.96 6.34,0.98 6.2,1.63 6.27,2.15 6.3,2.6 6.44,3.03 6.44,2.45 6.17,1.9 6.11,1.99 5.97,2.08 5.86,2.17 5.84,2.24 5.73,1.95 5.71,1.92 5.55,2.0 5.47,2.12 5.45,2.88 5.52,2.47 5.35,3.09 5.21,2.88 5.23,2.75 5.14,2.76 5.18,2.42 5.18,2.18 5.09,2.21 5.03,1.66 4.91,1.66 4.82,1.6 4.77,1.6 4.68,1.42 4.75,2.13 5.0,1.95 4.84,2.13 4.77,2.44 4.93,2.65 4.79,2.86 4.73,3.02 4.81,3.12 4.92,3.36 4.93,3.55 4.5,3.4 4.47,3.46 4.47,3.77 4.52,3.77 4.32,3.69 4.32,3.87 4.4,3.96 4.29,3.77 4.73,1.18 4.27,1.14 3.89,1.11 3.73,0.96 3.82,1.03 3.73,0.76 3.41,0.43 3.02,0.65 2.75,0.59 2.36,0.74 2.29,0.81 2.25,0.29 1.11,0.36 1.09,0.46 1.11,0.27 0.57,0.29 0.18,0.45 0.02,0.5 0.02,0.33 0.82,0.47 0.64,
4.73 5.12,6.32 4.94,4.93 4.3,5.01 4.16,5.22 4.0,5.19 3.84,6.57 3.85,8.19 4.24,9.28 3.19,4.6 3.41,4.67 3.34,4.76 3.2,5.48 3.04,5.63 3.09,5.92 3.3,6.35 3.25,6.12 2.97,6.38 2.85,6.42 2.82,4.98 2.88,4.84 2.94,4.78 2.79,4.81 2.64,4.84 2.5,4.88 2.45,5.37 2.77,5.57 2.75,5.25 2.56,5.46 2.53,5.49 2.43,4.99 2.32,5.02 2.44,5.1 2.15,5.97 2.25,6.08 2.25,6.22 2.12,6.61 2.07,6.76 2.03,6.81 2.2,6.81 1.82,7.27 1.93,7.4 1.79,7.47 1.45,7.0 1.54,6.81 1.31,6.88 1.31,6.58 1.47,6.25 1.52,6.14 1.8,5.85 1.82,5.75 2.07,5.65 1.95,5.55 2.05,5.45 1.94,5.31 1.91,5.21 1.86,5.14 1.77,5.19 1.57,5.02 1.75,4.88 1.77,5.73 1.51,5.77 1.45,5.83 1.4,5.64 1.22,5.55 1.09,5.42 1.36,5.29 1.29,8.58 1.66,8.58 1.06,8.6 0.97,7.98 1.2,8.89 0.71,8.32 0.72,8.28 0.65,7.64 0.81,7.62 0.68,7.75 0.59,7.85 0.49,7.81 0.38,7.35 0.87,7.4 0.57,7.35 0.26,7.33 0.17,7.24 0.4,7.1 0.64,7.05 0.52,7.15 0.21,7.06 0.26,6.95 0.43,6.95 0.25,6.76 0.64,6.76 0.45,6.67 0.43,6.61 0.45,6.63 0.79,6.47 0.55,6.52 0.44,6.43 0.47,6.45 0.27,6.66 0.07,6.36 0.68,6.24 0.69,6.24 0.49,6.32 0.12,6.11 0.63,6.09 0.46,6.14 0.88,5.96 0.84,6.05 0.73,5.92 0.45,5.96 0.3,6.01 0.14,5.76 0.57,5.8 0.36,5.88 0.27,5.67 0.91,5.71 0.82,5.6 0.73,5.62 0.38,5.5 0.61,5.45 0.45,5.39 0.27,5.47 0.18,5.63 0.03,5.33 0.7,5.26 0.84,5.18 0.5,5.07 0.7,5.1 0.3,8.08 0.18,8.42 0.32,8.42 0.11,8.35 0.03,9.78 0.14,5.26 1.09,5.45 0.84,6.17 1.09,6.24 1.13,6.01 1.0`;

// Panel C: Firm and Bank Default
const quantilesBank = [0.0125, 0.2, 0.4, 0.6, 0.8, 0.9875];
const firmData = [0.04, 0.085, 0.238, 0.586, 0.738, 0.975];
const firmBaseline = [0.03, 0.147, 0.228, 0.319, 0.430, 0.787];
const firmMerton = [0.0, 0.002, 0.0, -0.002, 0.013, 0.038];
const firmXTicks = [0.1,0.2,0.3,0.4,0.5,0.6,0.7,0.8,0.9];
const firmYTicks = [0,0.1,0.2,0.3,0.4,0.5,0.6,0.7,0.8,0.9];

// Panel D: GDP Growth and Bank Default
const quantilesGDP = [0.05, 0.2, 0.4, 0.6, 0.8, 0.95];
const gdpData = [-1.756, -0.288, -0.122, 0.008, 0.356, 1.475];
const gdpBaseline = [-1.95, -0.442, 0.08, 0.369, 0.687, 1.387];
const gdpMerton = [-1.48, -0.325, 0.01, 0.215, 0.497, 1.206];
const gdpXTicks = [0.1,0.2,0.3,0.4,0.5,0.6,0.7,0.8,0.9];
const gdpYTicks = [-1.5,-1,-0.5,0,0.5,1];

const seriesNames = ["Data", "Baseline Model", "Merton-type Model"];

// ---------- DRAWING ----------
const svg = d3.select("#chart");
const AX = "#262626";
const SANS = "'Liberation Sans', Arial, Helvetica, sans-serif";
const SERIF = "'Liberation Serif', 'Times New Roman', serif";
const parsePts = s => s.split(",").map(t => t.trim()).filter(t => t.length).map(t => t.split(/\s+/).map(Number));
const fmt = d => String(+d.toFixed(3));

function styleAxis(g) {
  g.selectAll("path.domain").attr("stroke", AX).attr("stroke-width", 1);
  g.selectAll(".tick line").attr("stroke", AX).attr("stroke-width", 1);
  g.selectAll(".tick text").attr("fill", AX).style("font-family", SANS).style("font-size", "10.5px");
}

function panel(opt) {
  const x = d3.scaleLinear().domain(opt.xDom).range([opt.x0, opt.x1]);
  const y = d3.scaleLinear().domain(opt.yDom).range([opt.yb, opt.yt]);
  const g = svg.append("g");
  if (opt.clipX) {
    const id = "clip" + Math.round(opt.x0);
    svg.append("clipPath").attr("id", id).append("rect")
      .attr("x", 0).attr("y", 0).attr("width", opt.clipX).attr("height", 961);
    g.attr("clip-path", `url(#${id})`);
  }
  const gx = g.append("g").attr("transform", `translate(0,${opt.yb})`)
    .call(d3.axisBottom(x).tickValues(opt.xTicks).tickFormat(fmt).tickSizeInner(-5).tickSizeOuter(0).tickPadding(opt.xPad));
  gx.selectAll(".tick text").attr("dy", "0.71em");
  styleAxis(gx);
  const gy = g.append("g").attr("transform", `translate(${opt.x0},0)`)
    .call(d3.axisLeft(y).tickValues(opt.yTicks).tickFormat(fmt).tickSizeInner(-5).tickSizeOuter(0).tickPadding(opt.yPad));
  styleAxis(gy);
  if (opt.box) {
    const gt = g.append("g").attr("transform", `translate(0,${opt.yt})`)
      .call(d3.axisTop(x).tickValues(opt.xTicks).tickFormat("").tickSizeInner(-5).tickSizeOuter(0));
    styleAxis(gt);
    const gr = g.append("g").attr("transform", `translate(${opt.x1},0)`)
      .call(d3.axisRight(y).tickValues(opt.yTicks).tickFormat("").tickSizeInner(-5).tickSizeOuter(0));
    styleAxis(gr);
  }
  svg.append("text").attr("x", opt.titleX).attr("y", opt.titleY).attr("text-anchor", "middle")
    .style("font-family", SERIF).style("font-size", "27.5px").attr("fill", "#000").text(opt.title);
  svg.append("text").attr("x", (opt.x0 + opt.x1) / 2).attr("y", opt.xLabY).attr("text-anchor", "middle")
    .style("font-family", SANS).style("font-size", "16px").attr("fill", AX).text(opt.xLabel);
  svg.append("text").attr("transform", `translate(${opt.yLabX},${opt.yLabCY}) rotate(-90)`)
    .attr("text-anchor", "middle").style("font-family", SANS).style("font-size", "16px").attr("fill", AX).text(opt.yLabel);
  return {x, y, g};
}

// Scatter panels (dot size: larger inside the densest part of each cloud)
const scatterSpecs = [
  {core: baselineCore, outer: baselineOuter, x0: 48.3, x1: 510.7, title: scatterTitles[0], titleX: 264, clipX: 512.5, yLabX: 24.5, denseX: 3.9, denseY: 1.5},
  {core: mertonCore, outer: mertonOuter, x0: 590.7, x1: 1053.3, title: scatterTitles[1], titleX: 805, clipX: null, yLabX: 566.5, denseX: 4.5, denseY: 1.6}
];
const inRange = d => d[0] >= 0 && d[0] <= 10 && d[1] >= 0 && d[1] <= 10;
scatterSpecs.forEach(s => {
  const p = panel({x0: s.x0, x1: s.x1, yt: 70.7, yb: 436.7, xDom: [0, 10], yDom: [0, 10],
    xTicks: scatterTicks, yTicks: scatterTicks, xPad: 6.5, yPad: 5, box: false, clipX: s.clipX,
    title: s.title, titleX: s.titleX, titleY: 26, xLabel: "Firm Default", xLabY: 472,
    yLabel: "Bank Default", yLabX: s.yLabX, yLabCY: 253.5});
  const gs = svg.append("g").attr("fill", "#0072BD");
  gs.append("g").selectAll("circle").data(parsePts(s.outer).filter(inRange)).join("circle")
    .attr("cx", d => p.x(d[0])).attr("cy", d => p.y(d[1])).attr("r", 1.35);
  gs.append("g").selectAll("circle").data(parsePts(s.core).filter(inRange)).join("circle")
    .attr("cx", d => p.x(d[0])).attr("cy", d => p.y(d[1]))
    .attr("r", d => (d[1] < s.denseY && d[0] < s.denseX) ? 2.6 : (d[0] < s.denseX + 0.5 && d[1] < 2.4 ? 2.0 : 1.6));
});

// Line panels
const lineSpecs = [
  {q: quantilesBank, series: [firmData, firmBaseline, firmMerton], x0: 48.3, x1: 510.7, yb: 919.3,
   xDom: [0.0125, 0.9875], yDom: [0, 0.975], xTicks: firmXTicks, yTicks: firmYTicks,
   title: lineTitles[0], titleX: 263, xLabel: "Quantiles of Bank Default",
   yLabel: "Effect of Firm Default on Bank Default", yLabX: 22.5, legendX: 56},
  {q: quantilesGDP, series: [gdpData, gdpBaseline, gdpMerton], x0: 590.7, x1: 1053.3, yb: 920,
   xDom: [0.05, 0.95], yDom: [-1.95, 1.475], xTicks: gdpXTicks, yTicks: gdpYTicks,
   title: lineTitles[1], titleX: 807.5, xLabel: "Quantiles of GDP Growth",
   yLabel: "Effect of Bank Default on GDP Growth", yLabX: 562.5, legendX: 599.3}
];
const colors = ["#FF0000", "#000000", "#0000FF"];
const dashes = [null, null, "8,5"];
lineSpecs.forEach(s => {
  const p = panel({x0: s.x0, x1: s.x1, yt: 554.7, yb: s.yb, xDom: s.xDom, yDom: s.yDom,
    xTicks: s.xTicks, yTicks: s.yTicks, xPad: 9, yPad: 5.6, box: true,
    title: s.title, titleX: s.titleX, titleY: 508, xLabel: s.xLabel, xLabY: 957.5,
    yLabel: s.yLabel, yLabX: s.yLabX, yLabCY: 738});
  const clipId = "lc" + Math.round(s.x0);
  svg.append("clipPath").attr("id", clipId).append("rect")
    .attr("x", s.x0).attr("y", 554.7 - 1).attr("width", s.x1 - s.x0).attr("height", s.yb - 554.7 + 2);
  const lg = svg.append("g").attr("clip-path", `url(#${clipId})`);
  const line = d3.line().x((d, i) => p.x(s.q[i])).y(d => p.y(d));
  s.series.forEach((vals, k) => {
    lg.append("path").datum(vals).attr("d", line).attr("fill", "none")
      .attr("stroke", colors[k]).attr("stroke-width", 2).attr("stroke-dasharray", dashes[k]);
  });
  const L = svg.append("g").attr("transform", `translate(${s.legendX},561.7)`);
  L.append("rect").attr("x", 0).attr("y", 0).attr("width", 181).attr("height", 65)
    .attr("fill", "#fff").attr("stroke", AX).attr("stroke-width", 1);
  seriesNames.forEach((nm, k) => {
    const yy = 13.3 + k * 20;
    L.append("line").attr("x1", 5.7).attr("x2", 36.7).attr("y1", yy).attr("y2", yy)
      .attr("stroke", colors[k]).attr("stroke-width", 2).attr("stroke-dasharray", dashes[k]);
    L.append("text").attr("x", 40.7).attr("y", yy + 4.8).style("font-family", SERIF)
      .style("font-size", "16.5px").attr("fill", "#000").text(nm);
  });
});
</script>
</body></html>
